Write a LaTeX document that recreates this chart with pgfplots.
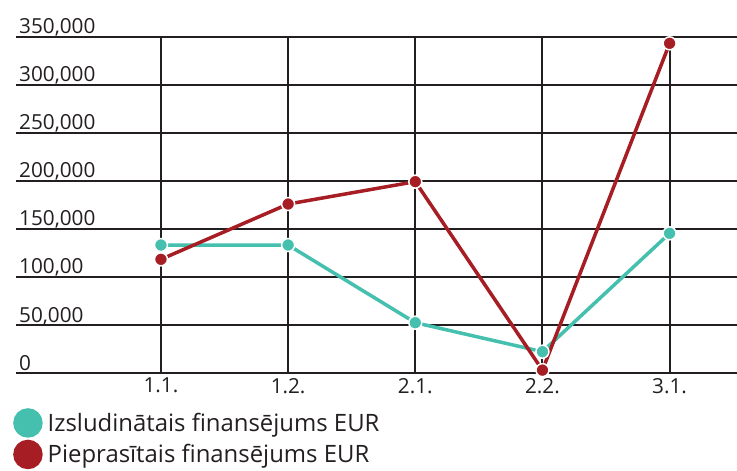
\documentclass[border=0pt]{standalone}
\usepackage{pgfplots}
\pgfplotsset{compat=1.18}
\usepackage{fontspec}
\setmainfont{Open Sans}
\definecolor{tealc}{HTML}{45BFAE}
\definecolor{redc}{HTML}{A61D24}
\definecolor{gridc}{HTML}{231F20}
\begin{document}
\begin{tikzpicture}
\useasboundingbox (0,0) rectangle (737bp,471bp);
\begin{axis}[
 at={(16bp,98bp)}, anchor=south west,
 scale only axis, width=721bp, height=336bp,
 xmin=-1.14, xmax=4.53, ymin=0, ymax=350000,
 axis line style={draw=none},
 scaled y ticks=false,
 xtick={0,...,4}, xticklabels={1.1.,1.2.,2.1.,2.2.,3.1.},
 ytick={0,50000,...,350000},
 yticklabels={0,{50,000},{100,00},{150,000},{200,000},{250,000},{300,000},{350,000}},
 grid=major, major grid style={gridc, line width=2bp},
 tick style={draw=none},
 ticklabel style={font=\fontsize{20.8}{24}\selectfont, text=gridc},
 yticklabel style={anchor=base west, inner sep=0pt, xshift=3bp, yshift=3bp},
 xticklabel style={anchor=north, inner sep=0pt, yshift=-5bp},
 clip=false,
 legend style={at={(axis description cs:0,0)}, anchor=north west, xshift=-3bp, yshift=-35bp,
   draw=none, fill=none, font=\fontsize{24}{27}\selectfont, text=gridc, row sep=2bp, inner sep=0pt,
   nodes={inner sep=2bp}},
 legend cell align=left,
]
\addplot[tealc, line width=3.5bp, mark=*, mark size=6.5bp, mark options={fill=tealc, draw=white, line width=1.5bp},
  legend image code/.code={\fill[tealc] (3bp,0) circle (13bp);\path (19bp,0);}]
 coordinates {(0,133300) (1,133300) (2,52400) (3,22200) (4,145500)};
\addlegendentry{Izsludinātais finansējums EUR}
\addplot[redc, line width=3.5bp, mark=*, mark size=6.5bp, mark options={fill=redc, draw=white, line width=1.5bp},
  legend image code/.code={\fill[redc] (3bp,0) circle (13bp);\path (19bp,0);}]
 coordinates {(0,118400) (1,176000) (2,199300) (3,3000) (4,343400)};
\addlegendentry{Pieprasītais finansējums EUR}
\end{axis}
\end{tikzpicture}
\end{document}
